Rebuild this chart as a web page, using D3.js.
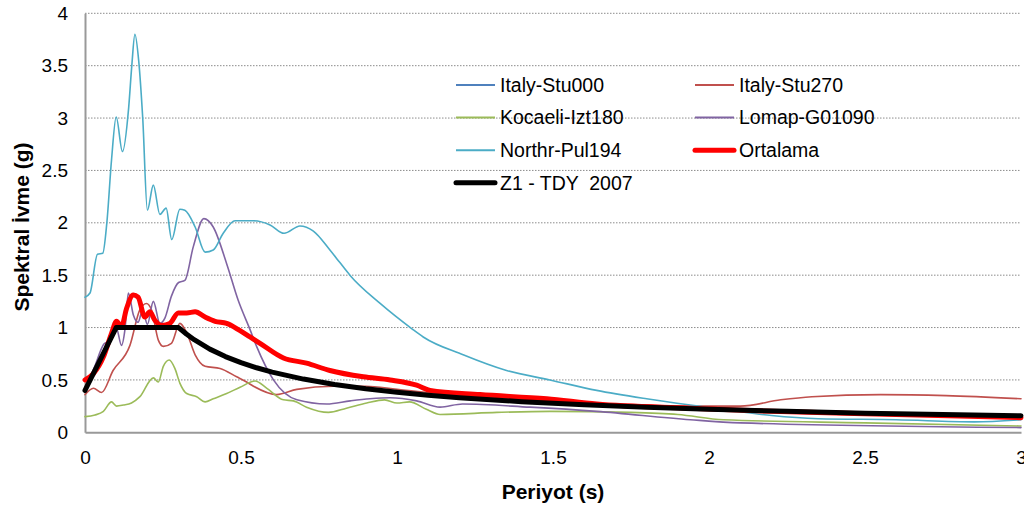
<!DOCTYPE html>
<html><head><meta charset="utf-8">
<script src="https://cdn.jsdelivr.net/npm/d3@7"></script>
<style>body{margin:0;background:#fff;}svg{display:block;font-family:"Liberation Sans",Arial,sans-serif;}</style>
</head><body><svg id="c" width="1024" height="509"></svg>
<script>
const xTicks = [0, 0.5, 1, 1.5, 2, 2.5, 3];
const yTicks = [0, 0.5, 1, 1.5, 2, 2.5, 3, 3.5, 4];
const xTickLabels = ["0", "0.5", "1", "1.5", "2", "2.5", "3"];
const yTickLabels = ["0", "0.5", "1", "1.5", "2", "2.5", "3", "3.5", "4"];
const seriesNames = ["Italy-Stu000", "Italy-Stu270", "Kocaeli-Izt180", "Lomap-G01090", "Northr-Pul194", "Ortalama", "Z1 - TDY  2007"];
const seriesColors = ["#4F81BD", "#C0504D", "#9BBB59", "#8064A2", "#4BACC6", "#FF0000", "#000000"];

const italyStu000T = [];
const italyStu000V = [];
const italyStu270T = [0,0.027,0.053,0.09,0.144,0.176,0.197,0.213,0.235,0.251,0.277,0.304,0.326,0.353,0.385,0.433,0.486,0.518,0.54,0.614,0.679,0.796,0.9,1.0,1.2,1.4,1.6,1.8,1.907,2.1,2.23,2.33,2.55,2.76,3.0];
const italyStu270V = [0.36,0.42,0.38,0.59,0.83,1.17,1.23,1.17,0.88,0.82,0.85,1.04,0.95,0.74,0.63,0.61,0.53,0.48,0.44,0.36,0.41,0.44,0.44,0.41,0.35,0.31,0.28,0.26,0.25,0.25,0.31,0.34,0.36,0.35,0.32];
const kocaeliT = [0,0.032,0.059,0.085,0.101,0.123,0.149,0.176,0.219,0.235,0.251,0.27,0.288,0.304,0.326,0.358,0.385,0.411,0.454,0.497,0.545,0.583,0.636,0.668,0.71,0.78,0.838,0.903,0.96,1.0,1.04,1.094,1.138,1.32,1.49,1.747,1.9,2.046,2.5,3.0];
const kocaeliV = [0.15,0.165,0.2,0.29,0.25,0.26,0.28,0.34,0.52,0.48,0.63,0.69,0.61,0.47,0.37,0.34,0.29,0.32,0.37,0.43,0.49,0.42,0.31,0.3,0.24,0.19,0.23,0.28,0.31,0.28,0.29,0.22,0.17,0.19,0.2,0.19,0.17,0.12,0.09,0.06];
const lomapT = [0,0.03,0.06,0.08,0.1,0.117,0.128,0.139,0.155,0.17,0.185,0.2,0.219,0.24,0.256,0.277,0.3,0.32,0.347,0.381,0.411,0.454,0.491,0.529,0.55,0.604,0.679,0.775,0.85,0.913,0.978,1.063,1.138,1.21,1.426,1.64,1.94,2.1,3.0];
const lomapV = [0.42,0.62,0.84,0.88,1.0,0.83,0.98,1.33,1.12,1.05,1.17,1.03,1.25,1.04,1.09,1.3,1.43,1.45,1.77,2.04,1.96,1.61,1.26,0.98,0.82,0.5,0.31,0.27,0.3,0.32,0.33,0.3,0.24,0.27,0.24,0.2,0.12,0.09,0.045];
const northrT = [0,0.016,0.04,0.057,0.07,0.085,0.1,0.12,0.14,0.15,0.16,0.172,0.185,0.2,0.219,0.24,0.26,0.278,0.304,0.32,0.353,0.385,0.411,0.443,0.481,0.54,0.593,0.638,0.689,0.732,0.785,0.817,0.849,0.946,1.047,1.084,1.212,1.351,1.49,1.64,1.8,1.94,2.067,2.2,2.35,2.6,2.85,3.0];
const northrV = [1.29,1.33,1.7,1.71,2.0,2.6,3.01,2.68,3.1,3.5,3.8,3.55,3.0,2.12,2.36,2.08,2.14,1.84,2.13,2.12,1.96,1.72,1.74,1.9,2.02,2.02,1.98,1.9,1.97,1.92,1.74,1.62,1.5,1.23,0.99,0.91,0.74,0.59,0.5,0.4,0.32,0.26,0.21,0.16,0.13,0.12,0.1,0.12];
const ortalamaT = [0,0.027,0.059,0.085,0.101,0.117,0.133,0.155,0.17,0.192,0.208,0.224,0.246,0.272,0.299,0.326,0.353,0.385,0.417,0.454,0.497,0.529,0.561,0.636,0.71,0.785,0.892,0.978,1.063,1.106,1.266,1.48,1.64,1.94,2.2,2.6,3.0];
const ortalamaV = [0.5,0.56,0.72,0.945,1.06,1.01,1.18,1.31,1.29,1.1,1.15,1.07,1.02,1.04,1.14,1.14,1.15,1.1,1.06,1.04,0.97,0.91,0.85,0.71,0.66,0.59,0.53,0.5,0.45,0.4,0.36,0.32,0.27,0.23,0.2,0.17,0.14];
const tdyT = [0,0.1,0.3,0.325,0.35,0.4,0.45,0.5,0.55,0.6,0.7,0.8,0.9,1.0,1.1,1.2,1.4,1.6,1.8,2.0,2.25,2.5,2.75,3.0];
const tdyV = [0.4,1.0,1.0,0.938,0.884,0.794,0.723,0.665,0.616,0.574,0.508,0.456,0.415,0.382,0.354,0.33,0.292,0.262,0.238,0.219,0.2,0.183,0.17,0.158];

const seriesT = [italyStu000T, italyStu270T, kocaeliT, lomapT, northrT, ortalamaT, tdyT];
const seriesV = [italyStu000V, italyStu270V, kocaeliV, lomapV, northrV, ortalamaV, tdyV];
const widths = [1.6, 1.6, 1.6, 1.6, 1.6, 5, 5];

const svg = d3.select("#c");
const L = 85, R = 1021, T = 13.3, B = 432.3;
const x = d3.scaleLinear().domain([0, 3]).range([L, R]);
const y = d3.scaleLinear().domain([0, 4]).range([B, T]);

// gridlines
svg.append("g").selectAll("line").data(yTicks.filter(d => d > 0)).join("line")
  .attr("x1", L).attr("x2", R).attr("y1", d => y(d)).attr("y2", d => y(d))
  .attr("stroke", "#8c8c8c").attr("stroke-width", 1).attr("stroke-dasharray", "1.5,1.5");

// axes
const yAxis = svg.append("g").attr("transform", `translate(${L},0)`)
  .call(d3.axisLeft(y).tickValues(yTicks).tickFormat((d, i) => yTickLabels[i]).tickSize(0).tickPadding(17));
const xAxis = svg.append("g").attr("transform", `translate(0,${B})`)
  .call(d3.axisBottom(x).tickValues(xTicks).tickFormat((d, i) => xTickLabels[i]).tickSize(0).tickPadding(18));
[yAxis, xAxis].forEach(a => {
  a.select(".domain").attr("stroke", "#999").attr("stroke-width", 2);
  a.selectAll("text").attr("font-size", 19).attr("fill", "#000").attr("font-family", "Liberation Sans, Arial, sans-serif");
});

// lines
seriesNames.forEach((name, i) => {
  const pts = seriesT[i].map((t, j) => [t, seriesV[i][j]]);
  if (!pts.length) return;
  const line = d3.line().x(d => x(d[0])).y(d => y(d[1]))
    .curve(i === 6 ? d3.curveLinear : d3.curveMonotoneX);
  svg.append("path").datum(pts).attr("d", line).attr("fill", "none")
    .attr("stroke", seriesColors[i]).attr("stroke-width", widths[i])
    .attr("stroke-linejoin", "round").attr("stroke-linecap", "round");
});

// legend
const legend = svg.append("g");
seriesNames.forEach((name, i) => {
  const col = i % 2, row = Math.floor(i / 2);
  const lx = col === 0 ? 456 : 695;
  const ly = 85 + row * 32.6;
  legend.append("line").attr("x1", lx).attr("x2", lx + 39).attr("y1", ly).attr("y2", ly)
    .attr("stroke", seriesColors[i]).attr("stroke-width", i >= 5 ? 5 : 2).attr("stroke-linecap", i >= 5 ? "round" : "butt");
  legend.append("text").attr("x", lx + 44).attr("y", ly).attr("dy", "0.35em")
    .attr("font-size", 19.5).attr("fill", "#000").style("white-space", "pre").text(name);
});

// axis titles
svg.append("text").attr("x", (L + R) / 2 + 0).attr("y", 492).attr("dy", "0.35em").attr("text-anchor", "middle")
  .attr("font-size", 21).attr("font-weight", "bold").text("Periyot (s)");
svg.append("text").attr("transform", "translate(22,227) rotate(-90)").attr("dy", "0.35em").attr("text-anchor", "middle")
  .attr("font-size", 21).attr("font-weight", "bold").text("Spektral İvme (g)");
</script></body></html>
